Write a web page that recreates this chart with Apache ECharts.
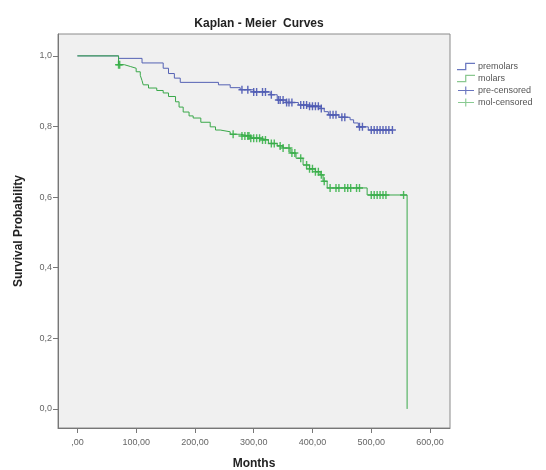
<!DOCTYPE html>
<html>
<head>
<meta charset="utf-8">
<script src="https://cdn.jsdelivr.net/npm/echarts@6/dist/echarts.min.js"></script>
<style>html,body{margin:0;padding:0;background:#fff}#c{width:546px;height:470px}</style>
</head>
<body>
<div id="c"></div>
<script>
// Kaplan-Meier step data (months, survival)
const preTimes = [0, 70, 110, 146, 155, 165, 175, 240, 260, 277, 300, 328, 340, 355, 376, 395, 413, 420, 427, 445, 464, 470, 478, 495, 536];
const preSurv  = [1.0, 0.993, 0.98, 0.965, 0.95, 0.937, 0.925, 0.918, 0.91, 0.904, 0.898, 0.89, 0.875, 0.868, 0.861, 0.857, 0.851, 0.842, 0.833, 0.826, 0.819, 0.81, 0.799, 0.79, 0.79];
const molTimes = [0, 70, 80, 90, 100, 107, 110, 112, 121, 135, 146, 155, 167, 173, 180, 190, 197, 210, 226, 235, 243, 260, 277, 295, 311, 325, 340, 350, 362, 372, 384, 395, 405, 413, 418, 425, 493, 561];
const molSurv  = [1.0, 0.975, 0.97, 0.965, 0.955, 0.945, 0.93, 0.918, 0.909, 0.902, 0.895, 0.885, 0.87, 0.855, 0.841, 0.83, 0.824, 0.812, 0.799, 0.79, 0.785, 0.778, 0.773, 0.767, 0.762, 0.752, 0.745, 0.739, 0.725, 0.71, 0.691, 0.68, 0.672, 0.663, 0.645, 0.626, 0.606, 0.0];
// censored observation times
const preCensored = [280, 290, 300, 305, 315, 320, 330, 342, 345, 350, 356, 360, 365, 380, 385, 390, 395, 400, 405, 410, 415, 430, 435, 440, 450, 455, 480, 485, 500, 505, 510, 515, 520, 525, 530, 536];
const molCensored = [70, 72, 265, 280, 285, 290, 292, 295, 300, 305, 310, 315, 320, 330, 335, 345, 350, 360, 365, 370, 380, 390, 395, 400, 405, 410, 415, 420, 430, 440, 445, 455, 460, 465, 475, 480, 500, 505, 510, 515, 520, 525, 555];
const xTicks = [0, 100, 200, 300, 400, 500, 600];
const yTicks = [0, 0.2, 0.4, 0.6, 0.8, 1.0];
const seriesNames = ['premolars', 'molars', 'pre-censored', 'mol-censored'];

const BLUE = '#4a56b2', GREEN = '#3cb44c';

function survAt(times, surv, t) {
  let s = surv[0];
  for (let i = 0; i < times.length; i++) { if (times[i] <= t) s = surv[i]; }
  return s;
}
function censorPts(ct, times, surv) {
  return ct.map(t => [t, survAt(times, surv, t === times[times.length-1] ? t - 0.01 : t)]);
}
const plus = 'path://M4,0h2v10h-2zM0,4h10v2h-10z';
const stepIcon = 'path://M0,9h9v-7h11v1.4h-9.6v7h-10.4z';

const chart = echarts.init(document.getElementById('c'), null, {renderer: 'canvas'});
chart.setOption({
  animation: false,
  backgroundColor: '#fff',
  title: {
    text: 'Kaplan - Meier  Curves', left: 254, top: 13, textAlign: 'center',
    textStyle: {fontFamily: 'Liberation Sans, Arial, sans-serif', fontSize: 12, fontWeight: 'bold', color: '#222'}
  },
  legend: {
    orient: 'vertical', left: 452, top: 57, itemWidth: 18, itemHeight: 8, itemGap: 3,
    textStyle: {fontFamily: 'Liberation Sans, Arial, sans-serif', fontSize: 9, color: '#555', padding: [0,0,0,-2]},
    data: [
      {name: seriesNames[0], icon: stepIcon, itemStyle: {color: '#6a78c0'}},
      {name: seriesNames[1], icon: stepIcon, itemStyle: {color: '#8ac890'}},
      {name: seriesNames[2], icon: 'path://M9,0h1.4v10h-1.4zM0,4.3h20v1.4h-20z', itemStyle: {color: '#5a66b8'}},
      {name: seriesNames[3], icon: 'path://M9,0h1.4v10h-1.4zM0,4.3h20v1.4h-20z', itemStyle: {color: '#7cc486'}}
    ]
  },
  grid: {left: 58, right: 96, top: 34, bottom: 42, outerBoundsMode: 'none', containLabel: false,
         show: true, backgroundColor: '#f0f0f0', borderColor: '#8a8a8a', borderWidth: 1},
  xAxis: {
    type: 'value', min: -33, max: 634,
    name: 'Months', nameLocation: 'middle', nameGap: 30,
    nameTextStyle: {fontFamily: 'Liberation Sans, Arial, sans-serif', fontSize: 12, fontWeight: 'bold', color: '#222'},
    axisLine: {show: true, onZero: false, lineStyle: {color: '#777'}},
    axisTick: {show: true, length: 5, lineStyle: {color: '#777'}, customValues: xTicks},
    axisLabel: {
      customValues: xTicks, color: '#666', fontSize: 9, margin: 10,
      fontFamily: 'Liberation Sans, Arial, sans-serif',
      formatter: v => (v === 0 ? ',00' : v.toFixed(2).replace('.', ','))
    },
    splitLine: {show: false}
  },
  yAxis: {
    type: 'value', min: -0.054, max: 1.062,
    name: 'Survival Probability', nameLocation: 'middle', nameGap: 33, nameRotate: 90,
    nameTextStyle: {fontFamily: 'Liberation Sans, Arial, sans-serif', fontSize: 12, fontWeight: 'bold', color: '#222'},
    axisLine: {show: true, onZero: false, lineStyle: {color: '#777'}},
    axisTick: {show: true, length: 5, lineStyle: {color: '#777'}, customValues: yTicks},
    axisLabel: {
      customValues: yTicks, color: '#666', fontSize: 9, margin: 6,
      fontFamily: 'Liberation Sans, Arial, sans-serif',
      formatter: v => v.toFixed(1).replace('.', ',')
    },
    splitLine: {show: false}
  },
  series: [
    {name: seriesNames[0], type: 'line', step: 'end', showSymbol: false, symbol: 'none',
     lineStyle: {color: '#5562b4', width: 1}, itemStyle: {color: '#6a78c0'},
     data: preTimes.map((t, i) => [t, preSurv[i]])},
    {name: seriesNames[1], type: 'line', step: 'end', showSymbol: false, symbol: 'none',
     lineStyle: {color: '#3aa84a', width: 1}, itemStyle: {color: '#8ac890'},
     data: molTimes.map((t, i) => [t, molSurv[i]])},
    {name: seriesNames[2], type: 'scatter', symbol: plus, symbolSize: [7, 8],
     itemStyle: {color: BLUE, opacity: 0.9}, data: censorPts(preCensored, preTimes, preSurv)},
    {name: seriesNames[3], type: 'scatter', symbol: plus, symbolSize: [7, 8],
     itemStyle: {color: GREEN, opacity: 0.9}, data: censorPts(molCensored, molTimes, molSurv)}
  ]
});
</script>
</body>
</html>
